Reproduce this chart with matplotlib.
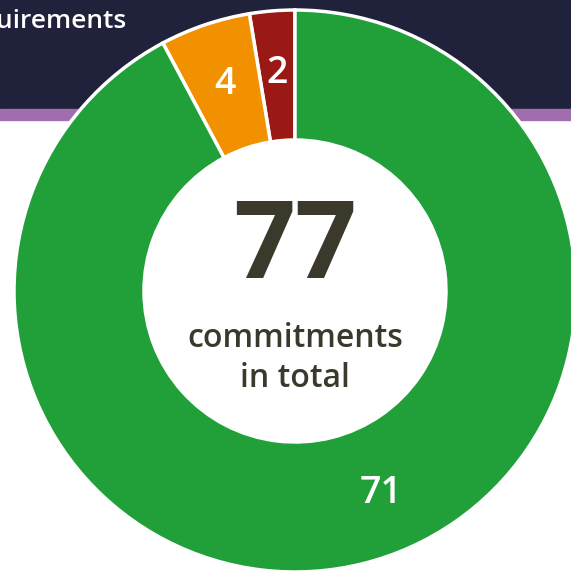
# Donut chart - commitments in total

import numpy as np
import matplotlib.pyplot as plt
from matplotlib.patches import Rectangle

plt.rcParams['font.family'] = ['Open Sans', 'DejaVu Sans']

# data
categories = ['Not met', 'Partly met', 'Met']
values = [2, 4, 71]
colors = ['#9B1915', '#F29100', '#21A03A']
total = sum(values)
header_text = 'uirements'

W, H = 571, 572
fig = plt.figure(figsize=(W/100, H/100), dpi=100)
ax = fig.add_axes([0, 0, 1, 1])

# header band
ax.add_patch(Rectangle((0, H-109), W, 109, color='#20213A', zorder=1))
ax.add_patch(Rectangle((0, H-120), W, 11, color='#A06DAE', zorder=1))
ax.text(126, H-28, header_text, color='white', fontsize=19, fontweight='semibold',
        ha='right', va='baseline', zorder=2)

cx, cy, R, r_in = 295, H-291, 281, 151
wedges, _ = ax.pie(values, colors=colors, startangle=90, counterclock=True,
                   center=(cx, cy), radius=R,
                   wedgeprops=dict(width=R-r_in, edgecolor='white', linewidth=2.5))
for w in wedges:
    w.set_zorder(3)

# value labels at the middle of the ring
rl = (R + r_in) / 2 + 3
for w, v in zip(wedges, values):
    ang = (w.theta1 + w.theta2) / 2
    if v == max(values):
        ang += 9  # big slice label sits off its mid angle
    ax.text(cx + rl*np.cos(np.radians(ang)), cy + rl*np.sin(np.radians(ang)), str(v),
            color='white', fontsize=27, fontweight='semibold', ha='center', va='center', zorder=4)

# centre text
ax.text(cx, H-250, str(total), color='#3B392C', fontsize=78, fontweight='bold',
        ha='center', va='center', zorder=4)
ax.text(cx, H-347, 'commitments', color='#3B392C', fontsize=23, fontweight='semibold',
        ha='center', va='baseline', zorder=4)
ax.text(cx, H-387, 'in total', color='#3B392C', fontsize=23, fontweight='semibold',
        ha='center', va='baseline', zorder=4)

ax.set_xlim(0, W)
ax.set_ylim(0, H)
ax.set_aspect('auto')
ax.axis('off')
fig.savefig('out.png', dpi=100)
